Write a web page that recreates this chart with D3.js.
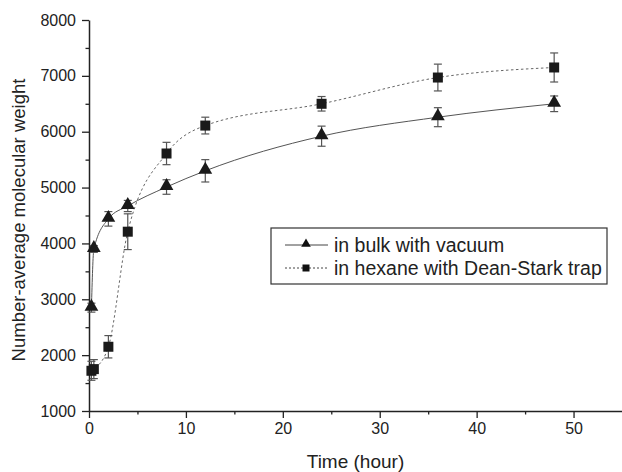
<!DOCTYPE html>
<html>
<head>
<meta charset="utf-8">
<script src="https://cdn.jsdelivr.net/npm/d3@7"></script>
<style>
  body { margin: 0; background: #fff; }
  svg { display: block; font-family: Arial, 'Liberation Sans', sans-serif; }
</style>
</head>
<body>
<div id="chart"></div>
<script>
'use strict';

const time = [0.25, 0.5, 2, 4, 8, 12, 24, 36, 48];
const bulkMn = [2850, 3900, 4440, 4670, 5010, 5300, 5920, 6260, 6500];
const bulkErr = [80, 60, 130, 100, 130, 200, 180, 170, 140];
const hexaneMn = [1720, 1750, 2150, 4210, 5610, 6110, 6500, 6970, 7150];
const hexaneErr = [170, 170, 200, 320, 200, 150, 130, 240, 260];
const xTicks = [0, 10, 20, 30, 40, 50];
const yTicks = [1000, 2000, 3000, 4000, 5000, 6000, 7000, 8000];
const seriesNames = ['in bulk with vacuum', 'in hexane with Dean-Stark trap'];

const width = 622;
const height = 472;
const margin = { top: 20, right: 0, bottom: 61, left: 89 };

const svg = d3.select('#chart')
  .append('svg')
  .attr('width', width)
  .attr('height', height);

const x = d3.scaleLinear().domain([0, 55]).range([margin.left, width - margin.right]);
const y = d3.scaleLinear().domain([1000, 8000]).range([height - margin.bottom, margin.top]);

const axisColor = '#222';

// minor ticks
svg.append('g')
  .attr('transform', `translate(0, ${y(1000)})`)
  .call(d3.axisBottom(x).tickValues(d3.range(5, 55, 10)).tickSize(3.5).tickFormat(''))
  .call((g) => g.select('.domain').remove())
  .call((g) => g.selectAll('line').attr('stroke', axisColor).attr('stroke-width', 1.3));

svg.append('g')
  .attr('transform', `translate(${x(0)}, 0)`)
  .call(d3.axisLeft(y).tickValues(d3.range(1500, 8000, 1000)).tickSize(3.5).tickFormat(''))
  .call((g) => g.select('.domain').remove())
  .call((g) => g.selectAll('line').attr('stroke', axisColor).attr('stroke-width', 1.3));

// major axes
const xAxis = svg.append('g')
  .attr('transform', `translate(0, ${y(1000)})`)
  .call(d3.axisBottom(x).tickValues(xTicks).tickFormat(d3.format('d'))
    .tickSize(7).tickSizeOuter(0).tickPadding(5));

const yAxis = svg.append('g')
  .attr('transform', `translate(${x(0)}, 0)`)
  .call(d3.axisLeft(y).tickValues(yTicks).tickFormat(d3.format('d'))
    .tickSize(7).tickSizeOuter(0).tickPadding(6));

[xAxis, yAxis].forEach((g) => {
  g.select('.domain').attr('stroke', axisColor).attr('stroke-width', 1.5);
  g.selectAll('.tick line').attr('stroke', axisColor).attr('stroke-width', 1.3);
  g.selectAll('.tick text')
    .attr('fill', '#222')
    .attr('font-size', '16px')
    .attr('font-family', 'Arial, "Liberation Sans", sans-serif');
});

// axis titles
svg.append('text')
  .attr('x', x(27.5))
  .attr('y', 468)
  .attr('text-anchor', 'middle')
  .attr('font-size', '19px')
  .attr('fill', '#222')
  .text('Time (hour)');

svg.append('text')
  .attr('transform', 'translate(25, 220) rotate(-90)')
  .attr('text-anchor', 'middle')
  .attr('font-size', '18.5px')
  .attr('fill', '#222')
  .text('Number-average molecular weight');

const bulk = time.map((t, i) => ({ t, v: bulkMn[i], e: bulkErr[i] }));
const hexane = time.map((t, i) => ({ t, v: hexaneMn[i], e: hexaneErr[i] }));

const line = d3.line()
  .x((d) => x(d.t))
  .y((d) => y(d.v))
  .curve(d3.curveMonotoneX);

svg.append('path')
  .datum(bulk)
  .attr('d', line)
  .attr('fill', 'none')
  .attr('stroke', '#555')
  .attr('stroke-width', 1);

svg.append('path')
  .datum(hexane)
  .attr('d', line)
  .attr('fill', 'none')
  .attr('stroke', '#666')
  .attr('stroke-width', 1)
  .attr('stroke-dasharray', '2.5,2.5');

const drawErrors = (data) => {
  const g = svg.append('g')
    .attr('stroke', '#555')
    .attr('stroke-width', 1.2);
  g.selectAll('line.bar')
    .data(data)
    .join('line')
    .attr('class', 'bar')
    .attr('x1', (d) => x(d.t))
    .attr('x2', (d) => x(d.t))
    .attr('y1', (d) => y(d.v - d.e))
    .attr('y2', (d) => y(d.v + d.e));
  g.selectAll('line.cap-top')
    .data(data)
    .join('line')
    .attr('class', 'cap-top')
    .attr('x1', (d) => x(d.t) - 4)
    .attr('x2', (d) => x(d.t) + 4)
    .attr('y1', (d) => y(d.v + d.e))
    .attr('y2', (d) => y(d.v + d.e));
  g.selectAll('line.cap-bottom')
    .data(data)
    .join('line')
    .attr('class', 'cap-bottom')
    .attr('x1', (d) => x(d.t) - 4)
    .attr('x2', (d) => x(d.t) + 4)
    .attr('y1', (d) => y(d.v - d.e))
    .attr('y2', (d) => y(d.v - d.e));
};

drawErrors(hexane);
drawErrors(bulk);

const triangle = d3.symbol().type(d3.symbolTriangle).size(82);
const square = d3.symbol().type(d3.symbolSquare).size(100);

svg.append('g')
  .selectAll('path')
  .data(hexane)
  .join('path')
  .attr('transform', (d) => `translate(${x(d.t)}, ${y(d.v)})`)
  .attr('d', square)
  .attr('fill', '#1a1a1a');

svg.append('g')
  .selectAll('path')
  .data(bulk)
  .join('path')
  .attr('transform', (d) => `translate(${x(d.t)}, ${y(d.v) - 1})`)
  .attr('d', triangle)
  .attr('fill', '#1a1a1a');

// legend
const legend = svg.append('g')
  .attr('transform', 'translate(271, 228)');

legend.append('rect')
  .attr('width', 336)
  .attr('height', 56)
  .attr('fill', 'white')
  .attr('stroke', '#333')
  .attr('stroke-width', 1.2);

const rows = legend.selectAll('g.row')
  .data(seriesNames)
  .join('g')
  .attr('class', 'row')
  .attr('transform', (d, i) => `translate(0, ${17 + i * 23})`);

rows.append('line')
  .attr('x1', 14)
  .attr('x2', 57)
  .attr('stroke', '#444')
  .attr('stroke-width', 1)
  .attr('stroke-dasharray', (d, i) => (i === 0 ? null : '2,2'));

rows.append('path')
  .attr('transform', (d, i) => `translate(35, ${i === 0 ? -1 : 0})`)
  .attr('d', (d, i) => (i === 0
    ? d3.symbol().type(d3.symbolTriangle).size(40)()
    : d3.symbol().type(d3.symbolSquare).size(49)()))
  .attr('fill', '#111');

rows.append('text')
  .attr('x', 63)
  .attr('y', 6.5)
  .attr('font-size', '19.5px')
  .attr('fill', '#222')
  .text((d) => d);
</script>
</body>
</html>
